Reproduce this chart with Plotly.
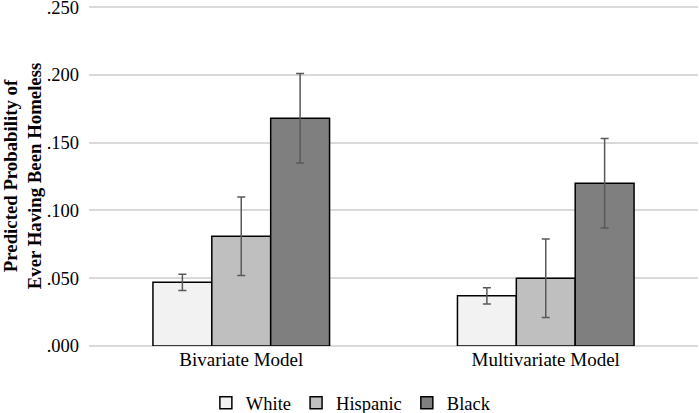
import plotly.graph_objects as go

categories = ["Bivariate Model", "Multivariate Model"]
series_names = ["White", "Hispanic", "Black"]
white = [0.047, 0.037]
hispanic = [0.081, 0.050]
black = [0.168, 0.120]
white_hi = [0.053, 0.043]
white_lo = [0.041, 0.031]
hispanic_hi = [0.110, 0.079]
hispanic_lo = [0.052, 0.021]
black_hi = [0.201, 0.153]
black_lo = [0.135, 0.087]
tick_vals = [0.0, 0.05, 0.10, 0.15, 0.20, 0.25]
tick_text = [".000", ".050", ".100", ".150", ".200", ".250"]

colors = ["#f2f2f2", "#bfbfbf", "#7f7f7f"]
vals = [white, hispanic, black]
his = [white_hi, hispanic_hi, black_hi]
los = [white_lo, hispanic_lo, black_lo]

fig = go.Figure()
for name, v, hi, lo, c in zip(series_names, vals, his, los, colors):
    fig.add_trace(go.Bar(
        x=categories, y=v, name=name,
        marker=dict(color=c, line=dict(color="#000000", width=1.5)),
        error_y=dict(type="data", symmetric=False,
                     array=[h - y for h, y in zip(hi, v)],
                     arrayminus=[y - l for y, l in zip(v, lo)],
                     color="#595959", thickness=1.5, width=4),
    ))

font = "Liberation Serif"
fig.update_layout(
    width=699, height=413,
    margin=dict(l=88.5, r=0.5, t=6, b=67, autoexpand=False),
    paper_bgcolor="white", plot_bgcolor="white",
    barmode="group", bargap=0.42, bargroupgap=0,
    font=dict(family=font, size=18, color="#000000"),
    showlegend=True,
    legend=dict(orientation="h", x=0.43, xanchor="center", y=-0.168, yanchor="middle",
                font=dict(family=font, size=18.5, color="#000000"),
                itemwidth=30, tracegroupgap=0),
    xaxis=dict(showline=False, ticks="", automargin=False,
               tickfont=dict(family=font, size=19, color="#000000")),
    yaxis=dict(range=[0, 0.2508], tickvals=tick_vals, ticktext=tick_text,
               showgrid=True, gridcolor="#d9d9d9", gridwidth=1.5,
               zeroline=True, zerolinecolor="#d9d9d9", zerolinewidth=1.5,
               showline=False, ticks="", ticklen=0, automargin=False,
               ticklabeloverflow="allow", ticklabelstandoff=9,
               tickfont=dict(family=font, size=18.5, color="#000000"),
               title=dict(text="<b>Predicted Probability of<br>Ever Having Been Homeless</b>",
                          font=dict(family=font, size=18.8, color="#000000"), standoff=5)),
)
fig.write_html("out.html", config={"displayModeBar": False},
               post_script="document.body.style.margin='0';")
